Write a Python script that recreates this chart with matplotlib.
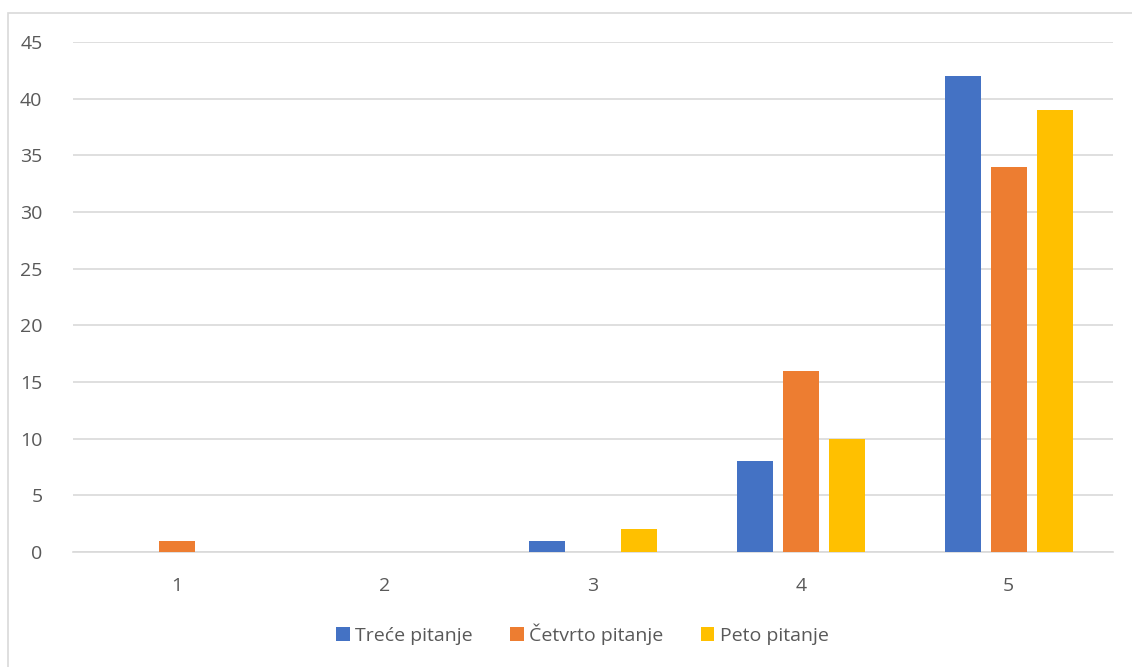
import numpy as np
import matplotlib.pyplot as plt
from matplotlib.patches import Rectangle

# --- data ---
categories = ["1", "2", "3", "4", "5"]
series_names = ["Treće pitanje", "Četvrto pitanje", "Peto pitanje"]
trece = [0, 0, 1, 8, 42]
cetvrto = [1, 0, 0, 16, 34]
peto = [0, 0, 2, 10, 39]
colors = ["#4472C4", "#ED7D31", "#FFC000"]

plt.rcParams["font.family"] = ["Open Sans", "DejaVu Sans"]
text_col = "#595959"
grid_col = "#D9D9D9"

fig = plt.figure(figsize=(11.32, 6.67), dpi=100)
ax = fig.add_axes([0.0645, 0.1724, 0.9185, 0.7646])

x = np.arange(1, len(categories) + 1)
width = 0.173
offset = 0.221
for i, (vals, name) in enumerate(zip([trece, cetvrto, peto], series_names)):
    ax.bar(x + (i - 1) * offset, vals, width, color=colors[i], label=name, zorder=3)

ax.set_xlim(0.5, 5.5)
ax.set_ylim(0, 45)
ax.set_yticks(range(0, 46, 5))
ax.set_xticks(x)
ax.set_xticklabels(categories)
ax.yaxis.grid(True, color=grid_col, linewidth=1.2, zorder=0)
for s in ["top", "right", "left"]:
    ax.spines[s].set_visible(False)
ax.spines["bottom"].set_color(grid_col)
ax.spines["bottom"].set_linewidth(1.2)
ax.tick_params(axis="both", length=0, labelsize=14, colors=text_col)
ax.tick_params(axis="y", pad=22)
ax.tick_params(axis="x", pad=18)

leg = ax.legend(loc="upper center", bbox_to_anchor=(0.49, -0.105), ncol=3,
                frameon=False, fontsize=14, handlelength=0.7, handleheight=0.7,
                handletextpad=0.3, columnspacing=1.9)
for t in leg.get_texts():
    t.set_color(text_col)

# outer chart border
fig.patches.append(Rectangle((8 / 1132, -0.01), 1.1, 1 - 13 / 667 + 0.01,
                             transform=fig.transFigure, fill=False,
                             edgecolor=grid_col, linewidth=1.2))

fig.savefig("out.png", dpi=100)
